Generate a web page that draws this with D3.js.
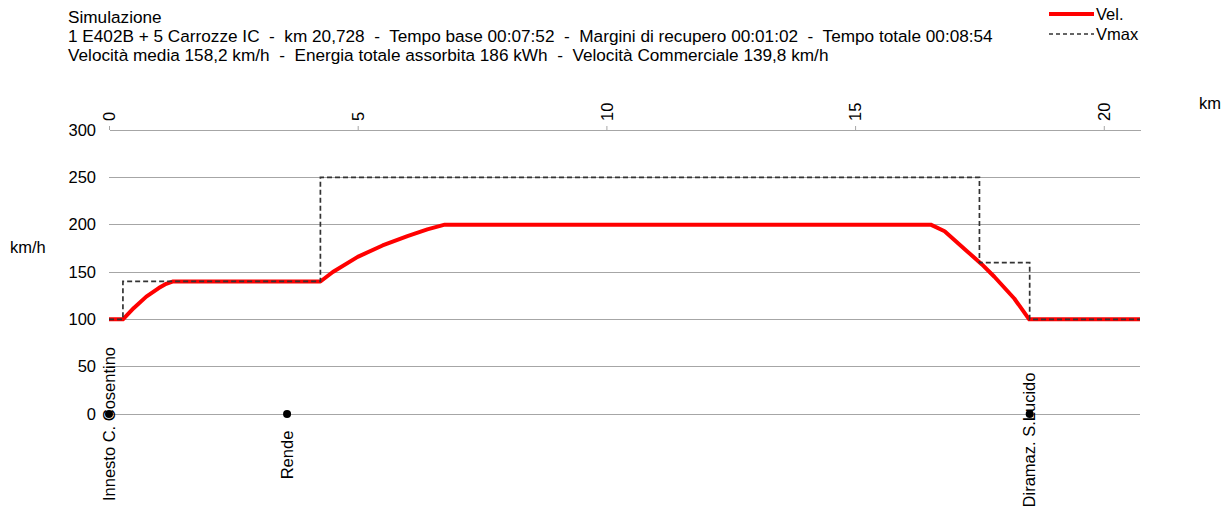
<!DOCTYPE html>
<html>
<head>
<meta charset="utf-8">
<script src="https://cdn.jsdelivr.net/npm/d3@7"></script>
<style>
  html, body { margin: 0; padding: 0; background: #fff; }
  svg { display: block; font-family: "Liberation Sans", Arial, sans-serif; }
  text { white-space: pre; }
</style>
</head>
<body>
<svg id="chart" width="1221" height="506"></svg>
<script>
// ---- data ----
const titleLines = [
  "Simulazione",
  "1 E402B + 5 Carrozze IC  -  km 20,728  -  Tempo base 00:07:52  -  Margini di recupero 00:01:02  -  Tempo totale 00:08:54",
  "Velocità media 158,2 km/h  -  Energia totale assorbita 186 kWh  -  Velocità Commerciale 139,8 km/h"
];
const seriesNames = ["Vel.", "Vmax"];
const velKm   = [0, 0.28, 0.5, 0.75, 1.0, 1.15, 1.29, 4.25, 4.5, 5.0, 5.5, 6.0, 6.4, 6.75, 16.52, 16.8, 17.25, 17.55, 17.8, 18.2, 18.5, 20.728];
const velKmh  = [100, 100, 112, 124, 133, 137.5, 140, 140, 150, 166, 178, 188, 195, 200, 200, 193, 172, 158, 145, 122, 100, 100];
const vmaxKm  = [0, 0.28, 4.25, 17.5, 18.51, 20.728];
const vmaxKmh = [100, 140, 250, 160, 100, 100];
const stationNames = ["Innesto C. Cosentino", "Rende", "Diramaz. S.Lucido"];
const stationKm = [0, 3.58, 18.51];
const xTicks = [0, 5, 10, 15, 20];
const yTicks = [0, 50, 100, 150, 200, 250, 300];
const totalKm = 20.728;

// ---- layout ----
const svg = d3.select("#chart");
const x = d3.scaleLinear().domain([0, totalKm]).range([109, 1140]);
const y = d3.scaleLinear().domain([0, 300]).range([414, 130]);
const fs = 16.5;

// title
svg.append("g").selectAll("text").data(titleLines).join("text")
  .attr("x", 68).attr("y", (d, i) => 23 + i * 19)
  .attr("font-size", 17.2).attr("fill", "#000")
  .attr("xml:space", "preserve").text(d => d);

// gridlines
svg.append("g").selectAll("line").data(yTicks.filter(v => v < 300)).join("line")
  .attr("x1", x(0)).attr("x2", x(totalKm))
  .attr("y1", d => y(d)).attr("y2", d => y(d))
  .attr("stroke", "#a6a6a6").attr("stroke-width", 1).attr("shape-rendering", "crispEdges");

// top x axis
const xAxis = d3.axisTop(x).tickValues(xTicks).tickSize(4).tickSizeOuter(0).tickFormat(d3.format("d"));
const gx = svg.append("g").attr("transform", `translate(0,${y(300)})`).call(xAxis);
gx.select(".domain").attr("stroke", "#a6a6a6").attr("shape-rendering", "crispEdges");
gx.selectAll(".tick line").attr("stroke", "#a6a6a6");
gx.selectAll(".tick text")
  .attr("font-size", fs).attr("font-family", "Liberation Sans, Arial, sans-serif").attr("fill", "#000")
  .attr("transform", "rotate(-90)")
  .attr("text-anchor", "start").attr("x", 9).attr("y", 0).attr("dy", "0.35em");

// left y labels
const yAxis = d3.axisLeft(y).tickValues(yTicks).tickSize(0).tickPadding(13);
const gy = svg.append("g").attr("transform", `translate(${x(0)},0)`).call(yAxis);
gy.select(".domain").remove();
gy.selectAll(".tick text").attr("font-size", fs).attr("font-family", "Liberation Sans, Arial, sans-serif").attr("fill", "#000");

// axis titles
svg.append("text").attr("x", 10).attr("y", 253).attr("font-size", fs).text("km/h");
svg.append("text").attr("x", 1199).attr("y", 109).attr("font-size", fs).text("km");

// Vel line
const velData = velKm.map((k, i) => [k, velKmh[i]]);
svg.append("path").datum(velData)
  .attr("d", d3.line().x(d => x(d[0])).y(d => y(d[1])))
  .attr("fill", "none").attr("stroke", "#ff0000").attr("stroke-width", 4)
  .attr("stroke-linejoin", "round");

// Vmax line
const vmaxData = vmaxKm.map((k, i) => [k, vmaxKmh[i]]);
svg.append("path").datum(vmaxData)
  .attr("d", d3.line().curve(d3.curveStepAfter).x(d => x(d[0])).y(d => y(d[1])))
  .attr("fill", "none").attr("stroke", "#333").attr("stroke-width", 1.7)
  .attr("stroke-dasharray", "5,3");

// stations
const labelCenter = [424, 455, 440];
const st = svg.append("g").selectAll("g").data(stationNames).join("g");
st.append("circle").attr("cx", (d, i) => x(stationKm[i])).attr("cy", y(0)).attr("r", 4).attr("fill", "#000");
st.append("text")
  .attr("transform", (d, i) => `translate(${x(stationKm[i])},${labelCenter[i]}) rotate(-90)`)
  .attr("text-anchor", "middle").attr("dy", "0.35em")
  .attr("font-size", fs).attr("fill", "#000").text(d => d);

// legend
const lg = svg.append("g");
lg.append("line").attr("x1", 1049).attr("x2", 1094).attr("y1", 14).attr("y2", 14)
  .attr("stroke", "#ff0000").attr("stroke-width", 4);
lg.append("line").attr("x1", 1049).attr("x2", 1094).attr("y1", 34).attr("y2", 34)
  .attr("stroke", "#333").attr("stroke-width", 1.3).attr("stroke-dasharray", "4,3");
lg.selectAll("text").data(seriesNames).join("text")
  .attr("x", 1096).attr("y", (d, i) => 20 + i * 20)
  .attr("font-size", 16.5).attr("fill", "#000").text(d => d);
</script>
</body>
</html>
